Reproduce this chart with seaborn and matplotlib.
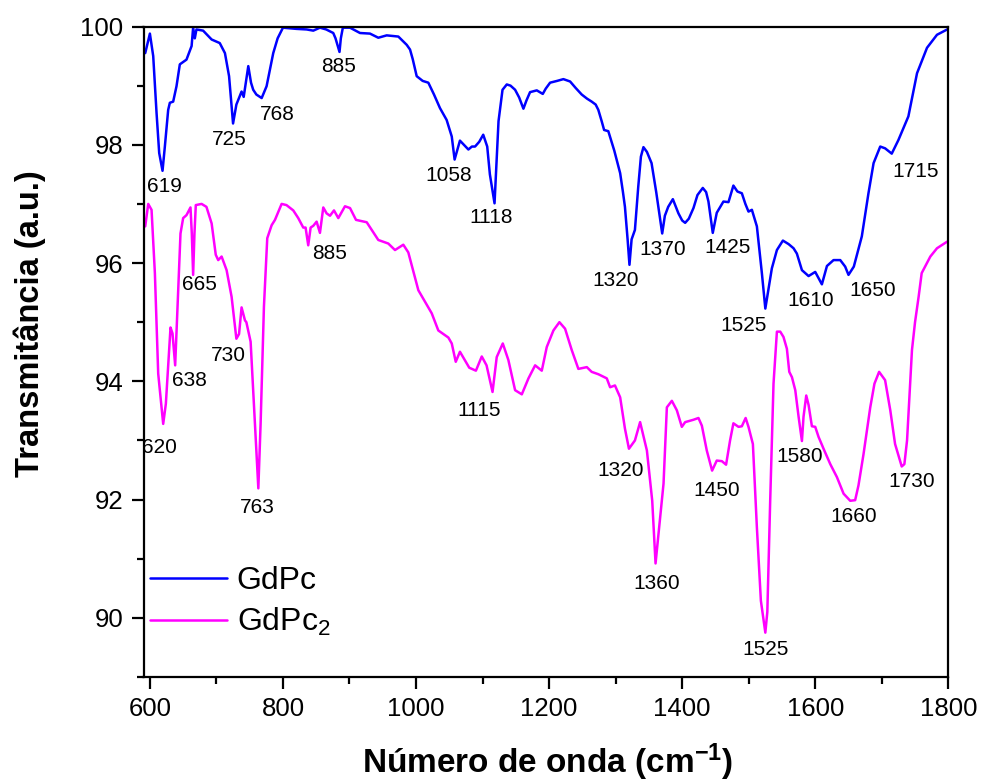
import numpy as np
import pandas as pd
import matplotlib
matplotlib.use("Agg")
import matplotlib.pyplot as plt
import seaborn as sns

# FTIR spectra: wavenumber (cm^-1) and transmittance (a.u.)
gdpc_wavenumber = [
    593, 600, 605, 610, 614, 619, 622.5, 627.5, 630, 635, 640, 645, 655, 662.7, 665,
    667.5, 670, 680, 692.8, 705, 712.8, 719, 725, 730, 737.8, 741, 747.9, 752, 755.3,
    760, 768, 775.4, 785.4, 792, 800, 810, 820, 835.6, 845.6, 855.6, 865, 875.6, 879,
    885, 887, 890, 900.8, 915.8, 930.8, 943.3, 955.9, 973.4, 986, 991, 995, 1001, 1010,
    1018.5, 1027, 1036, 1046, 1053.7, 1058, 1066, 1072, 1078.7, 1084, 1088.7, 1095,
    1101, 1107, 1111, 1118, 1121, 1124, 1130, 1136.4, 1142, 1148.9, 1155, 1161.4, 1166,
    1171.4, 1181.5, 1190.5, 1195, 1201.5, 1212, 1221.5, 1231.6, 1240, 1249, 1257, 1264,
    1270, 1274, 1279, 1282.7, 1289, 1298, 1306.8, 1311, 1314, 1318, 1320.8, 1324, 1329,
    1334, 1338, 1341.8, 1347, 1354, 1361, 1370, 1374, 1379, 1386, 1394.4, 1400, 1404.5,
    1410, 1417, 1423, 1431, 1436, 1439.5, 1446, 1452, 1462, 1469.6, 1477, 1483, 1489.7,
    1495, 1499.7, 1504.8, 1512.3, 1519.8, 1525, 1534.8, 1542.4, 1551.4, 1560, 1567.4,
    1572.4, 1580, 1590, 1600, 1610, 1617.6, 1627.5, 1637.6, 1645, 1650, 1658, 1670,
    1680, 1687.7, 1697.7, 1705, 1715, 1725, 1740, 1753, 1768, 1783, 1798, 1800,
]
gdpc_transmittance = [
    99.55, 99.88, 99.50, 98.54, 97.86, 97.56, 97.97, 98.59, 98.71, 98.73, 98.99, 99.36,
    99.44, 99.67, 99.98, 99.80, 99.95, 99.93, 99.78, 99.72, 99.55, 99.16, 98.36, 98.68,
    98.90, 98.81, 99.33, 99.05, 98.93, 98.85, 98.79, 98.99, 99.55, 99.80, 99.98, 99.97,
    99.96, 99.95, 99.93, 99.98, 99.95, 99.89, 99.80, 99.57, 99.80, 99.98, 99.98, 99.89,
    99.88, 99.81, 99.85, 99.83, 99.69, 99.61, 99.45, 99.16, 99.08, 99.05, 98.85, 98.62,
    98.42, 98.14, 97.75, 98.07, 98.00, 97.92, 97.97, 97.97, 98.05, 98.17, 97.97, 97.50,
    97.01, 97.70, 98.40, 98.93, 99.02, 99.00, 98.93, 98.80, 98.61, 98.75, 98.89, 98.92,
    98.86, 98.95, 99.05, 99.08, 99.11, 99.07, 98.96, 98.85, 98.78, 98.73, 98.68, 98.59,
    98.40, 98.25, 98.23, 97.90, 97.52, 97.20, 96.95, 96.40, 95.97, 96.40, 96.56, 97.29,
    97.80, 97.96, 97.88, 97.69, 97.20, 96.50, 96.80, 96.95, 97.08, 96.84, 96.72, 96.68,
    96.75, 96.93, 97.15, 97.27, 97.20, 97.04, 96.51, 96.85, 97.04, 97.03, 97.31, 97.21,
    97.18, 97.00, 96.87, 96.90, 96.62, 95.83, 95.23, 95.91, 96.22, 96.38, 96.32, 96.25,
    96.16, 95.88, 95.78, 95.85, 95.64, 95.95, 96.05, 96.05, 95.94, 95.80, 95.94, 96.45,
    97.18, 97.69, 97.97, 97.94, 97.85, 98.08, 98.48, 99.21, 99.64, 99.86, 99.95, 99.96,
]

gdpc2_wavenumber = [
    593, 597.5, 602.5, 607.5, 612.5, 620, 624, 631, 634, 638, 642.5, 646, 650, 655, 661,
    663, 665, 667, 669, 677.7, 685, 692.8, 699, 702.7, 707.8, 715.3, 722.8, 730, 734,
    737.8, 742.9, 745, 751.4, 757.9, 763, 766.4, 771.4, 776.4, 783, 788, 798, 805.3,
    815.5, 823, 830.5, 834, 838, 841.6, 845.6, 850.6, 855.6, 860.6, 865.6, 870.7, 876.7,
    883.2, 893.2, 900.8, 909.8, 925.9, 943.3, 958.3, 968.4, 980.9, 988.4, 1003.5, 1023.6,
    1033.5, 1048.6, 1053.7, 1059.7, 1066, 1080, 1090, 1098.8, 1106, 1115, 1121.3, 1130.4,
    1138.8, 1148.9, 1159, 1169, 1179, 1189, 1196.5, 1206.5, 1215.5, 1224, 1234, 1244,
    1256.7, 1264, 1274, 1286.7, 1291.7, 1299, 1306.8, 1314, 1320, 1329, 1336.8, 1347,
    1355, 1360, 1366, 1372, 1377, 1384.5, 1392, 1399.5, 1404.5, 1417, 1424.5, 1429.6,
    1437, 1445, 1452, 1459.7, 1466, 1472, 1477, 1484.7, 1489.7, 1495.4, 1499.7, 1506.3,
    1512.3, 1518.3, 1525, 1528, 1532.3, 1537.3, 1542.4, 1547.4, 1552.3, 1557.4, 1561,
    1565, 1570, 1575, 1580, 1582.4, 1586.5, 1590, 1595, 1600, 1605, 1612.5, 1622.6,
    1632.6, 1642.6, 1652.6, 1660, 1665, 1672.6, 1682.7, 1689, 1696, 1705, 1712.8, 1720,
    1730, 1734, 1738, 1745.4, 1750, 1755.4, 1760, 1773, 1783, 1798, 1800,
]
gdpc2_transmittance = [
    96.62, 97.00, 96.90, 95.83, 94.13, 93.28, 93.62, 94.91, 94.81, 94.27, 95.54, 96.50,
    96.76, 96.81, 96.94, 96.50, 95.80, 96.50, 96.98, 97.00, 96.95, 96.67, 96.14, 96.05,
    96.11, 95.88, 95.43, 94.72, 94.80, 95.25, 95.03, 95.00, 94.67, 93.28, 92.19, 93.28,
    95.26, 96.42, 96.64, 96.73, 97.00, 96.98, 96.89, 96.76, 96.60, 96.60, 96.30, 96.60,
    96.63, 96.70, 96.51, 96.94, 96.84, 96.80, 96.89, 96.76, 96.96, 96.93, 96.73, 96.69,
    96.39, 96.33, 96.22, 96.31, 96.18, 95.54, 95.15, 94.86, 94.74, 94.64, 94.33, 94.50,
    94.23, 94.18, 94.42, 94.27, 93.82, 94.41, 94.64, 94.36, 93.85, 93.78, 94.05, 94.27,
    94.18, 94.58, 94.86, 95.00, 94.89, 94.53, 94.21, 94.24, 94.16, 94.12, 94.05, 93.90,
    93.93, 93.73, 93.20, 92.86, 93.00, 93.31, 92.83, 91.98, 90.92, 91.60, 92.27, 93.56,
    93.67, 93.51, 93.23, 93.31, 93.35, 93.38, 93.25, 92.83, 92.49, 92.66, 92.65, 92.59,
    93.00, 93.29, 93.23, 93.24, 93.38, 93.23, 92.94, 91.53, 90.29, 89.75, 90.10, 91.98,
    93.96, 94.84, 94.84, 94.75, 94.55, 94.16, 94.07, 93.85, 93.40, 92.99, 93.40, 93.76,
    93.60, 93.24, 93.23, 93.06, 92.86, 92.60, 92.38, 92.10, 91.98, 91.99, 92.24, 92.77,
    93.56, 93.96, 94.16, 94.02, 93.51, 92.94, 92.56, 92.60, 93.00, 94.53, 95.00, 95.43,
    95.83, 96.11, 96.25, 96.36, 96.36,
]

series_names = ["GdPc", "GdPc$_2$"]
series_colors = ["#0000ff", "#ff00ff"]

# Band assignments written next to each spectrum
gdpc_band_labels = ["619", "725", "768", "885", "1058", "1118", "1320", "1370",
                    "1425", "1525", "1610", "1650", "1715"]
gdpc_band_label_x = [622.6, 719, 792, 884, 1049, 1112.5, 1300, 1370.7, 1468, 1492,
                     1593, 1686, 1751.5]
gdpc_band_label_y = [97.29, 98.09, 98.51, 99.33, 97.48, 96.77, 95.70, 96.23, 96.26,
                     94.94, 95.36, 95.53, 97.54]

gdpc2_band_labels = ["620", "638", "665", "730", "763", "885", "1115", "1320", "1360",
                     "1450", "1525", "1580", "1660", "1730"]
gdpc2_band_label_x = [614.5, 659.4, 674, 718.3, 761.2, 870, 1095, 1306.8, 1362, 1452,
                      1524.8, 1576, 1658, 1744.6]
gdpc2_band_label_y = [92.88, 94.01, 95.63, 94.43, 91.86, 96.16, 93.51, 92.49, 90.58,
                      92.15, 89.46, 92.73, 91.72, 92.31]

df = pd.concat([
    pd.DataFrame({"wavenumber": gdpc_wavenumber, "transmittance": gdpc_transmittance,
                  "sample": series_names[0]}),
    pd.DataFrame({"wavenumber": gdpc2_wavenumber, "transmittance": gdpc2_transmittance,
                  "sample": series_names[1]}),
], ignore_index=True)

sns.set_style("ticks")
plt.rcParams["font.family"] = ["Liberation Sans", "DejaVu Sans"]
plt.rcParams["mathtext.fontset"] = "custom"
plt.rcParams["mathtext.rm"] = "Liberation Sans"
plt.rcParams["mathtext.it"] = "Liberation Sans"
plt.rcParams["mathtext.bf"] = "Liberation Sans:bold"
plt.rcParams["mathtext.default"] = "regular"
for key in ["text.color", "axes.labelcolor", "xtick.color", "ytick.color",
            "xtick.labelcolor", "ytick.labelcolor", "axes.edgecolor"]:
    plt.rcParams[key] = "black"

fig = plt.figure(figsize=(9.82, 7.82), dpi=100)
ax = fig.add_axes([143.5 / 982, 1 - 677 / 782, (948.3 - 143.5) / 982, (677 - 26.5) / 782])

sns.lineplot(data=df, x="wavenumber", y="transmittance", hue="sample",
             palette=dict(zip(series_names, series_colors)), hue_order=series_names,
             estimator=None, sort=False, linewidth=1.8, ax=ax)

for txt, x, y in zip(gdpc_band_labels, gdpc_band_label_x, gdpc_band_label_y):
    ax.text(x, y, txt, ha="center", va="center", fontsize=15, color="black")
for txt, x, y in zip(gdpc2_band_labels, gdpc2_band_label_x, gdpc2_band_label_y):
    ax.text(x, y, txt, ha="center", va="center", fontsize=15, color="black")

ax.set_xlim(590.4, 1800)
ax.set_ylim(89, 100)
ax.set_xticks(np.arange(600, 1801, 200))
ax.set_xticks(np.arange(700, 1801, 200), minor=True)
ax.set_yticks(np.arange(90, 100.1, 2))
ax.set_yticks(np.arange(89, 100, 2), minor=True)

for side in ["left", "right", "top", "bottom"]:
    ax.spines[side].set_visible(True)
    ax.spines[side].set_color("black")
    ax.spines[side].set_linewidth(1.6)
ax.tick_params(which="major", direction="out", length=8.5, width=1.6,
               labelsize=18.5, pad=6, colors="black")
ax.tick_params(which="minor", direction="out", length=5, width=1.6, colors="black")
ax.tick_params(top=False, right=False, which="both")

ax.set_xlabel("")
ax.set_ylabel("")
fig.text(548 / 982, 1 - 773 / 782, r"Número de onda (cm$^{\mathbf{-1}}$)",
         ha="center", va="baseline", fontsize=24, fontweight="bold", color="black")
fig.text(30 / 982, 1 - 324 / 782, "Transmitância (a.u.)", rotation=90,
         ha="center", va="center", fontsize=23.5, fontweight="bold", color="black")

handles, labels = ax.get_legend_handles_labels()
leg = ax.legend(handles, labels, loc="center left",
                bbox_to_anchor=(7 / 805, 1 - (602 - 26.5) / 650.5),
                frameon=False, fontsize=23, handlelength=2.4, handletextpad=0.3,
                labelspacing=0.3, borderpad=0, borderaxespad=0)
for t in leg.get_texts():
    t.set_color("black")
for h in leg.get_lines():
    h.set_linewidth(1.8)

fig.savefig("out.png", dpi=100)
